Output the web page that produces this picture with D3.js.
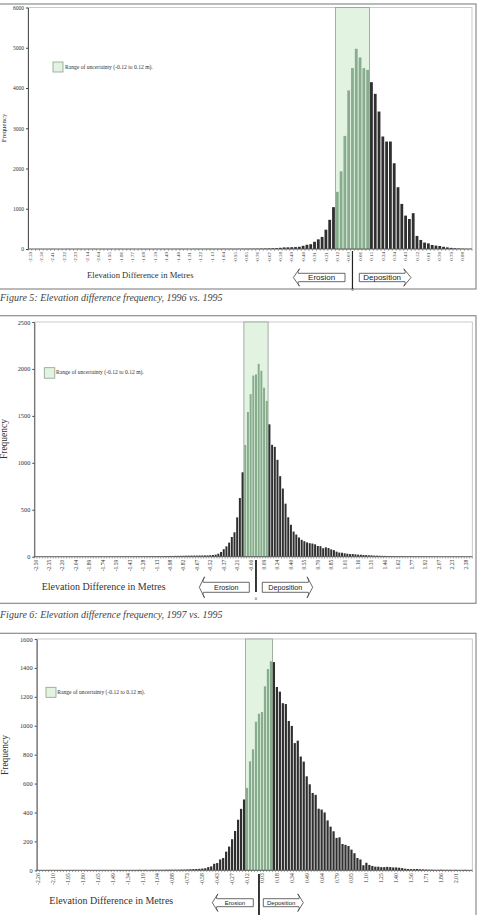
<!DOCTYPE html>
<html><head><meta charset="utf-8">
<script src="https://cdn.jsdelivr.net/npm/d3@7"></script>
<style>html,body{margin:0;padding:0;background:#fff;} svg{display:block}</style>
</head><body>
<svg id="c" width="484" height="915"></svg>
<script>
// ---------- DATA ----------
// Figure 5: 1996 vs 1995 (117 bins)
const counts1996 = [
  0,0,1,0,0,0,1,0,0,0,1,0,0,1,0,0,0,1,0,1,
  0,1,0,1,1,0,1,1,0,1,1,1,0,1,1,2,1,1,2,1,
  2,2,1,2,3,2,2,3,3,2,3,4,3,4,4,5,5,6,6,7,
  8,10,12,15,18,22,30,
  40,42,45,48,55,80,105,120,180,240,300,480,725,1040,
  1420,1930,2810,3940,4495,4975,4760,4495,4450,
  4145,3855,3415,2795,2670,2670,2130,1535,1120,830,745,890,325,225,160,140,100,85,75,55,40,28,18,12,8,5,4
];
const labels1996 = ["-2.59","-2.50","-2.41","-2.32","-2.23","-2.14","-2.04","-1.95","-1.86","-1.77","-1.68","-1.59","-1.49","-1.40","-1.31","-1.22","-1.13","-1.04","-0.95","-0.85","-0.76","-0.67","-0.58","-0.49","-0.40","-0.31","-0.21","-0.12","-0.03","0.06","0.15","0.24","0.34","0.43","0.52","0.61","0.70","0.79","0.88"];
const yTicks1996 = [0,1000,2000,3000,4000,5000,6000];

// Figure 6: 1997 vs 1995 (163 bins)
const counts1997 = [
  1,0,1,0,1,1,0,1,0,1,1,0,1,1,0,1,1,1,0,1,
  1,2,1,1,2,1,2,1,2,2,1,2,2,3,2,2,3,3,2,3,
  3,3,4,4,5,5,6,6,7,7,8,8,9,9,10,10,11,11,12,12,
  12,13,13,14,14,16,18,22,32,50,80,110,150,210,260,419,625,899,
  1190,1542,1732,1930,1942,2054,1980,1800,1660,
  1410,1192,1170,1032,858,726,565,420,340,268,236,205,180,165,152,144,140,132,114,112,
  90,100,92,78,70,54,44,42,36,32,28,28,25,22,21,18,17,15,14,12,11,10,9,8,7,7,6,5,5,4,
  4,3,3,3,3,2,3,2,2,2,2,1,2,1,1,1,1,1,0,1,1,0,1,0,0,1
];
const labels1997 = ["-2.50","-2.35","-2.20","-2.04","-1.89","-1.74","-1.59","-1.43","-1.28","-1.13","-0.98","-0.82","-0.67","-0.52","-0.37","-0.21","-0.06","0.09","0.24","0.40","0.55","0.70","0.85","1.01","1.16","1.31","1.46","1.62","1.77","1.92","2.07","2.23","2.38"];
const yTicks1997 = [0,500,1000,1500,2000,2500];

// Third figure (146 bins)
const counts1998 = [
  1,1,0,1,1,0,1,1,1,0,1,1,1,1,0,1,1,1,1,1,
  1,1,2,1,1,2,1,2,2,1,2,2,2,2,3,2,3,2,3,3,
  3,3,3,4,4,4,4,4,5,5,6,7,8,9,10,
  12,14,22,27,45,50,75,85,129,164,215,272,350,425,490,
  570,754,837,1028,1083,1095,1273,1392,1446,
  1440,1268,1236,1156,1150,1033,999,880,897,787,752,650,595,535,522,
  426,420,400,345,302,270,224,228,182,176,168,143,118,85,75,35,52,37,30,25,25,22,22,24,22,20,20,18,15,11,9,8,8,9,7,6,5,
  4,4,3,3,4,3,3,3,2,3,2,2,3,2,2
];
const labels1998 = ["-2.26","-2.10","-1.95","-1.80","-1.65","-1.49","-1.34","-1.19","-1.04","-0.88","-0.73","-0.58","-0.43","-0.27","-0.12","0.03","0.18","0.34","0.49","0.64","0.79","0.95","1.10","1.25","1.40","1.56","1.71","1.86","2.01"];
const yTicks1998 = [0,200,400,600,800,1000,1200,1400,1600];

// uncertainty-range bins (first, last) for each histogram
const uncertainty1996 = [81, 89];
const uncertainty1997 = [78, 86];
const uncertainty1998 = [70, 78];
// bin that holds 0 m
const zeroBin1996 = 85, zeroBin1997 = 82, zeroBin1998 = 74;

const legendText = "Range of uncertainty (-0.12 to 0.12 m).";
const xTitle = "Elevation Difference in Metres";
const yTitle = "Frequency";
const captions = ["Figure 5: Elevation difference frequency, 1996 vs. 1995",
                  "Figure 6: Elevation difference frequency, 1997 vs. 1995"];

// ---------- LAYOUT ----------
const charts = [
  {counts:counts1996, labels:labels1996, every:3, yTicks:yTicks1996, yMax:6000, green:uncertainty1996, zero:zeroBin1996,
   frame:[-1,4,476,289], left:28, right:472, top:7.5, bottom:249,
   yFont:5.5, xFont:5, xTitleFont:8.6, xTitleX:87, xTitleY:278, freqX:6, freqY:128, freqFont:6.8,
   leg:{x:53,y:62,s:10,tx:65,ty:68.5,f:5.6},
   ero:{tip:293.3, a:298.3, b:345, yc:277.5, hh:4.2, wh:8.7, f:8},
   dep:{tip:411, a:405, b:359.3},
   divTop:251, divBot:289, zeroY:290.5, zeroF:4, divW:1.2,
   caption:captions[0], capY:300.5},
  {counts:counts1997, labels:labels1997, every:5, yTicks:yTicks1997, yMax:2500, green:uncertainty1997, zero:zeroBin1997,
   frame:[-1,315.7,476,603.3], left:34.3, right:472.3, top:322, bottom:556.7,
   yFont:6.3, xFont:5.6, xTitleFont:10, xTitleX:41.7, xTitleY:590, freqX:7, freqY:439, freqFont:9.5,
   leg:{x:44.3,y:367.7,s:10.5,tx:56,ty:374,f:5.6},
   ero:{tip:199.3, a:203.3, b:249.3, yc:587.3, hh:5, wh:10.5, f:7.2},
   dep:{tip:312.7, a:308.3, b:262.3},
   divTop:560, divBot:592, zeroY:600, zeroF:4.5, divW:1.8,
   caption:captions[1], capY:617.5},
  {counts:counts1998, labels:labels1998, every:5, yTicks:yTicks1998, yMax:1600, green:uncertainty1998, zero:zeroBin1998,
   frame:[-1,633.3,476,925], left:36.7, right:472.3, top:639, bottom:870.3,
   yFont:6.4, xFont:5.6, xTitleFont:10, xTitleX:49.3, xTitleY:904, freqX:8, freqY:755, freqFont:9.5,
   leg:{x:46,y:687.3,s:10,tx:57.3,ty:693.5,f:5.6},
   ero:{tip:212.3, a:216.7, b:253.3, yc:902.7, hh:4, wh:8.8, f:6},
   dep:{tip:303.3, a:299, b:263.3},
   divTop:874, divBot:916, zeroY:null, zeroF:4.5, divW:1.8,
   caption:null}
];

const svg = d3.select("#c");
const SERIF = "Liberation Serif, Times New Roman, serif";
const SANS = "Liberation Sans, Arial, sans-serif";

function arrowPath(tip, a, b, yc, hh, wh) {
  const dir = Math.sign(a - tip);
  const k = dir * 1.2;
  return `M${b},${yc-hh} L${a},${yc-hh} Q${a-k},${yc-wh*0.6} ${a+k},${yc-wh} L${tip},${yc} L${a+k},${yc+wh} Q${a-k},${yc+wh*0.6} ${a},${yc+hh} L${b},${yc+hh} Z`;
}

function drawChart(c) {
  const g = svg.append("g");
  g.append("rect").attr("x",c.frame[0]).attr("y",c.frame[1])
    .attr("width",c.frame[2]-c.frame[0]).attr("height",c.frame[3]-c.frame[1])
    .attr("fill","none").attr("stroke","#8c8c8c").attr("stroke-width",1.2);

  const x = d3.scaleBand().domain(d3.range(c.counts.length)).range([c.left,c.right])
    .paddingInner(0.26).paddingOuter(0.13);
  const y = d3.scaleLinear().domain([0,c.yMax]).range([c.bottom,c.top]);
  const step = x.step();
  const edge = b => c.left + b*step;

  g.append("rect").attr("x",c.left).attr("y",c.top).attr("width",c.right-c.left).attr("height",c.bottom-c.top)
    .attr("fill","none").attr("stroke","#bdbdbd").attr("stroke-width",0.8);

  const bx0 = edge(c.green[0]), bx1 = edge(c.green[1]+1);
  g.append("rect").attr("x",bx0).attr("y",c.top).attr("width",bx1-bx0).attr("height",c.bottom-c.top)
    .attr("fill","#e3f3e2").attr("stroke","#8e9e8e").attr("stroke-width",0.8);

  g.append("g").selectAll("rect").data(c.counts).join("rect")
    .attr("x",(d,i)=>x(i)).attr("width",x.bandwidth())
    .attr("y",d=>y(d)).attr("height",d=>c.bottom-y(d))
    .attr("fill",(d,i)=> (i>=c.green[0] && i<=c.green[1]) ? "#88ad8e" : "#2f2f2f");

  const ya = g.append("g").attr("transform",`translate(${c.left},0)`)
    .call(d3.axisLeft(y).tickValues(c.yTicks).tickSize(2).tickSizeOuter(0).tickPadding(2).tickFormat(d3.format("d")));
  ya.select(".domain").attr("stroke","#444").attr("stroke-width",0.9);
  ya.selectAll(".tick line").attr("stroke","#444");
  ya.selectAll("text").attr("font-family",SERIF).attr("font-size",c.yFont).attr("fill","#333");

  g.append("line").attr("x1",c.left).attr("x2",c.right).attr("y1",c.bottom).attr("y2",c.bottom)
    .attr("stroke","#555").attr("stroke-width",0.8);
  g.append("g").selectAll("line").data(d3.range(c.counts.length+1)).join("line")
    .attr("x1",d=>edge(d)).attr("x2",d=>edge(d)).attr("y1",c.bottom).attr("y2",c.bottom+1.8)
    .attr("stroke","#666").attr("stroke-width",0.6);

  g.append("g").selectAll("text").data(c.labels).join("text")
    .attr("transform",(d,i)=>`translate(${x(i*c.every)+x.bandwidth()/2+c.xFont*0.35},${c.bottom+3}) rotate(-90)`)
    .attr("text-anchor","end").attr("font-family",SERIF).attr("font-size",c.xFont).attr("fill","#333")
    .text(d=>d);

  g.append("text").attr("x",c.xTitleX).attr("y",c.xTitleY).attr("font-family",SERIF)
    .attr("font-size",c.xTitleFont).attr("fill","#333").text(xTitle);
  g.append("text").attr("transform",`translate(${c.freqX},${c.freqY}) rotate(-90)`).attr("text-anchor","middle")
    .attr("font-family",SERIF).attr("font-size",c.freqFont).attr("fill","#333").text(yTitle);

  g.append("rect").attr("x",c.leg.x).attr("y",c.leg.y).attr("width",c.leg.s).attr("height",c.leg.s)
    .attr("fill","#e3f3e2").attr("stroke","#8e9e8e").attr("stroke-width",0.8);
  g.append("text").attr("x",c.leg.tx).attr("y",c.leg.ty).attr("font-family",SERIF)
    .attr("font-size",c.leg.f).attr("fill","#333").text(legendText);

  const e = c.ero, dp = c.dep;
  g.append("path").attr("d",arrowPath(e.tip,e.a,e.b,e.yc,e.hh,e.wh))
    .attr("fill","#fff").attr("stroke","#444").attr("stroke-width",0.8);
  g.append("text").attr("x",(e.a+e.b)/2).attr("y",e.yc+e.f*0.36).attr("text-anchor","middle")
    .attr("font-family",SANS).attr("font-size",e.f).attr("fill","#222").text("Erosion");
  g.append("path").attr("d",arrowPath(dp.tip,dp.a,dp.b,e.yc,e.hh,e.wh))
    .attr("fill","#fff").attr("stroke","#444").attr("stroke-width",0.8);
  g.append("text").attr("x",(dp.a+dp.b)/2).attr("y",e.yc+e.f*0.36).attr("text-anchor","middle")
    .attr("font-family",SANS).attr("font-size",e.f).attr("fill","#222").text("Deposition");

  const zx = x(c.zero)+x.bandwidth()/2;
  g.append("line").attr("x1",zx).attr("x2",zx).attr("y1",c.divTop).attr("y2",c.divBot)
    .attr("stroke","#222").attr("stroke-width",c.divW);
  if (c.zeroY) g.append("text").attr("x",zx).attr("y",c.zeroY).attr("text-anchor","middle")
    .attr("font-family",SERIF).attr("font-size",c.zeroF).attr("fill","#333").text("0");

  if (c.caption) svg.append("text").attr("x",0).attr("y",c.capY).attr("font-family",SERIF)
    .attr("font-style","italic").attr("font-size",10).attr("fill","#444").text(c.caption);
}

charts.forEach(drawChart);
</script>
</body></html>
